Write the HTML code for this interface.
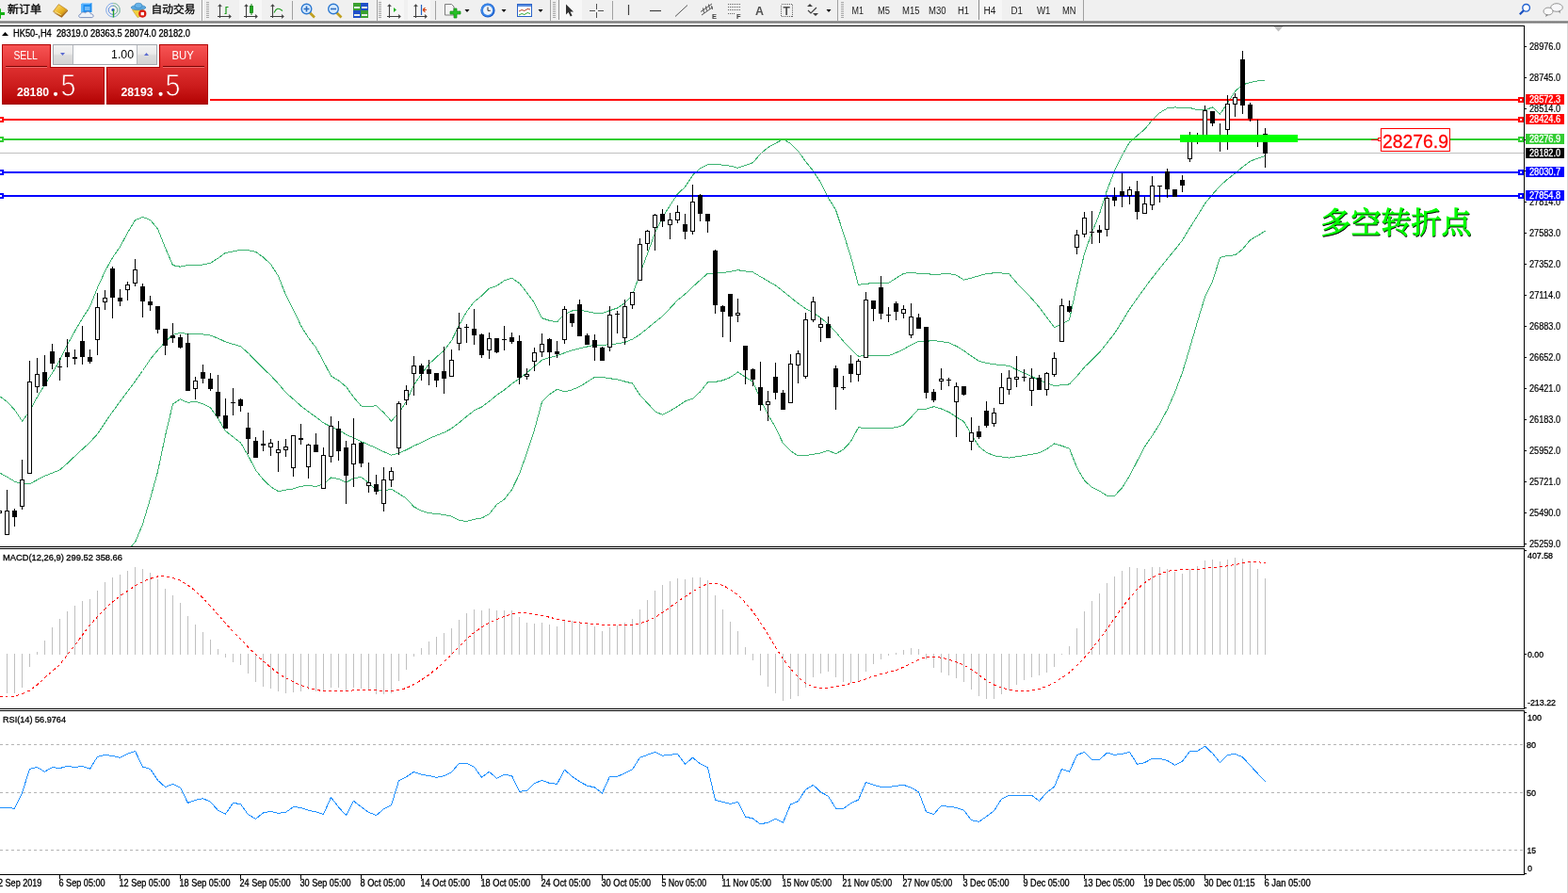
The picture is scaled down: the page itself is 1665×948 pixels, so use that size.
<!DOCTYPE html>
<html><head><meta charset="utf-8"><title>MT4 HK50 H4</title>
<style>
html,body{margin:0;padding:0;background:#fff;}
body{width:1665px;height:948px;overflow:hidden;position:relative;font-family:"Liberation Sans","Noto Sans CJK SC",sans-serif;}
.tb{position:absolute;left:0;top:0;width:1665px;height:22px;background:#f0f0f0;}
.tbl{position:absolute;left:0;top:22px;width:1665px;height:3px;background:linear-gradient(#b4b4b4,#6e6e6e 60%,#d0d0d0);}
</style></head><body>
<svg width="1665" height="948" viewBox="0 0 1665 948" style="position:absolute;left:0;top:0" font-family="&quot;Liberation Sans&quot;, &quot;Noto Sans CJK SC&quot;, sans-serif">
<g shape-rendering="crispEdges" stroke="#000" stroke-width="1" fill="none">
<line x1="0" y1="27.5" x2="1619" y2="27.5"/>
<line x1="0" y1="580.5" x2="1619" y2="580.5"/>
<line x1="0" y1="582.5" x2="1619" y2="582.5"/>
<line x1="0" y1="752.5" x2="1619" y2="752.5"/>
<line x1="0" y1="754.5" x2="1619" y2="754.5"/>
<line x1="0" y1="928.5" x2="1619" y2="928.5"/>
<line x1="1618.5" y1="27" x2="1618.5" y2="581"/>
<line x1="1618.5" y1="582" x2="1618.5" y2="753"/>
<line x1="1618.5" y1="754" x2="1618.5" y2="929"/>
</g>
<rect x="1664" y="25" width="1" height="923" fill="#d8d8d8"/>
<g shape-rendering="crispEdges" fill="#000">
<rect x="1619" y="49" width="2" height="1"/>
<rect x="1619" y="82" width="2" height="1"/>
<rect x="1619" y="115" width="2" height="1"/>
<rect x="1619" y="148" width="2" height="1"/>
<rect x="1619" y="181" width="2" height="1"/>
<rect x="1619" y="214" width="2" height="1"/>
<rect x="1619" y="247" width="2" height="1"/>
<rect x="1619" y="280" width="2" height="1"/>
<rect x="1619" y="313" width="2" height="1"/>
<rect x="1619" y="346" width="2" height="1"/>
<rect x="1619" y="379" width="2" height="1"/>
<rect x="1619" y="412" width="2" height="1"/>
<rect x="1619" y="445" width="2" height="1"/>
<rect x="1619" y="478" width="2" height="1"/>
<rect x="1619" y="511" width="2" height="1"/>
<rect x="1619" y="544" width="2" height="1"/>
<rect x="1619" y="577" width="2" height="1"/>
</g>
<text x="1624" y="53" font-size="10" fill="#000" stroke="#000" stroke-width="0.2" textLength="33" lengthAdjust="spacingAndGlyphs">28976.0</text>
<text x="1624" y="86" font-size="10" fill="#000" stroke="#000" stroke-width="0.2" textLength="33" lengthAdjust="spacingAndGlyphs">28745.0</text>
<text x="1624" y="119" font-size="10" fill="#000" stroke="#000" stroke-width="0.2" textLength="33" lengthAdjust="spacingAndGlyphs">28514.0</text>
<text x="1624" y="218" font-size="10" fill="#000" stroke="#000" stroke-width="0.2" textLength="33" lengthAdjust="spacingAndGlyphs">27814.0</text>
<text x="1624" y="251" font-size="10" fill="#000" stroke="#000" stroke-width="0.2" textLength="33" lengthAdjust="spacingAndGlyphs">27583.0</text>
<text x="1624" y="284" font-size="10" fill="#000" stroke="#000" stroke-width="0.2" textLength="33" lengthAdjust="spacingAndGlyphs">27352.0</text>
<text x="1624" y="317" font-size="10" fill="#000" stroke="#000" stroke-width="0.2" textLength="33" lengthAdjust="spacingAndGlyphs">27114.0</text>
<text x="1624" y="350" font-size="10" fill="#000" stroke="#000" stroke-width="0.2" textLength="33" lengthAdjust="spacingAndGlyphs">26883.0</text>
<text x="1624" y="383" font-size="10" fill="#000" stroke="#000" stroke-width="0.2" textLength="33" lengthAdjust="spacingAndGlyphs">26652.0</text>
<text x="1624" y="416" font-size="10" fill="#000" stroke="#000" stroke-width="0.2" textLength="33" lengthAdjust="spacingAndGlyphs">26421.0</text>
<text x="1624" y="449" font-size="10" fill="#000" stroke="#000" stroke-width="0.2" textLength="33" lengthAdjust="spacingAndGlyphs">26183.0</text>
<text x="1624" y="482" font-size="10" fill="#000" stroke="#000" stroke-width="0.2" textLength="33" lengthAdjust="spacingAndGlyphs">25952.0</text>
<text x="1624" y="515" font-size="10" fill="#000" stroke="#000" stroke-width="0.2" textLength="33" lengthAdjust="spacingAndGlyphs">25721.0</text>
<text x="1624" y="548" font-size="10" fill="#000" stroke="#000" stroke-width="0.2" textLength="33" lengthAdjust="spacingAndGlyphs">25490.0</text>
<text x="1624" y="581" font-size="10" fill="#000" stroke="#000" stroke-width="0.2" textLength="33" lengthAdjust="spacingAndGlyphs">25259.0</text>
<defs><clipPath id="cm"><rect x="0" y="28" width="1618" height="552"/></clipPath><clipPath id="cd"><rect x="0" y="583" width="1618" height="169"/></clipPath><clipPath id="cr"><rect x="0" y="755" width="1618" height="173"/></clipPath></defs>
<g clip-path="url(#cm)">
<polygon points="1352.5,28 1362.5,28 1357.5,33.5" fill="#c0c0c0"/>
<g fill="none" stroke="#3cb371" stroke-width="1" shape-rendering="crispEdges"><polyline points="-0.5,420.5 7.5,426.5 15.5,435.0 23.5,447.0 31.5,436.5 39.5,421.5 47.5,408.3 55.5,396.0 63.5,382.5 71.5,366.0 79.5,351.5 87.5,338.0 95.5,325.5 103.5,305.5 111.5,288.0 119.5,273.5 127.5,262.0 135.5,247.0 143.5,233.7 151.5,230.5 159.5,233.4 167.5,243.1 175.5,263.0 183.5,281.6 191.5,283.2 199.5,281.4 207.5,282.0 215.5,281.0 223.5,279.3 231.5,274.2 239.5,268.4 247.5,266.9 255.5,265.4 263.5,265.7 271.5,267.3 279.5,273.1 287.5,280.4 295.5,293.0 303.5,313.3 311.5,328.6 319.5,345.7 327.5,358.6 335.5,368.9 343.5,383.8 351.5,399.1 359.5,404.0 367.5,410.5 375.5,421.6 383.5,431.0 391.5,431.9 399.5,430.5 407.5,438.1 415.5,447.0 423.5,438.4 431.5,426.0 439.5,408.7 447.5,397.1 455.5,386.7 463.5,379.0 471.5,372.0 479.5,361.7 487.5,345.1 495.5,330.9 503.5,320.3 511.5,314.1 519.5,306.2 527.5,303.5 535.5,297.8 543.5,295.2 551.5,300.6 559.5,310.7 567.5,321.6 575.5,337.7 583.5,340.3 591.5,341.9 599.5,333.4 607.5,330.0 615.5,329.3 623.5,330.6 631.5,332.4 639.5,332.4 647.5,329.7 655.5,327.0 663.5,321.8 671.5,313.1 679.5,290.8 687.5,269.3 695.5,247.3 703.5,230.8 711.5,218.1 719.5,205.9 727.5,198.4 735.5,186.1 743.5,178.7 751.5,174.6 759.5,174.7 767.5,175.1 775.5,176.2 783.5,178.3 791.5,175.4 799.5,172.7 807.5,163.3 815.5,156.5 823.5,152.2 831.5,147.7 839.5,152.4 847.5,160.2 855.5,171.5 863.5,181.5 871.5,193.9 879.5,209.9 887.5,223.0 895.5,247.1 903.5,272.8 911.5,302.4 919.5,301.2 927.5,300.7 935.5,300.2 943.5,300.5 951.5,295.3 959.5,290.3 967.5,289.2 975.5,290.3 983.5,290.3 991.5,291.7 999.5,291.0 1007.5,290.4 1015.5,292.2 1023.5,297.1 1031.5,295.1 1039.5,292.8 1047.5,290.6 1055.5,289.8 1063.5,290.0 1071.5,290.7 1079.5,300.2 1087.5,308.5 1095.5,316.8 1103.5,326.2 1111.5,336.7 1119.5,347.7 1127.5,344.2 1135.5,339.6 1143.5,302.6 1151.5,269.3 1159.5,246.6 1167.5,227.1 1175.5,202.0 1183.5,181.2 1191.5,164.8 1199.5,151.1 1207.5,144.0 1215.5,137.2 1223.5,127.5 1231.5,119.7 1239.5,114.9 1247.5,113.9 1255.5,114.7 1263.5,114.4 1271.5,116.9 1279.5,116.8 1287.5,113.9 1295.5,121.1 1303.5,109.3 1311.5,96.9 1319.5,89.9 1327.5,87.5 1335.5,85.9 1343.5,86.0"/><polyline points="-0.5,502.0 7.5,506.3 15.5,511.1 23.5,514.0 31.5,513.8 39.5,509.4 47.5,505.3 55.5,502.1 63.5,498.9 71.5,491.9 79.5,484.3 87.5,476.9 95.5,469.5 103.5,460.7 111.5,448.8 119.5,437.1 127.5,426.3 135.5,415.5 143.5,404.7 151.5,393.5 159.5,381.5 167.5,371.9 175.5,362.8 183.5,355.3 191.5,353.5 199.5,354.4 207.5,354.1 215.5,354.9 223.5,356.1 231.5,359.2 239.5,362.9 247.5,365.4 255.5,367.7 263.5,374.7 271.5,383.2 279.5,391.1 287.5,398.6 295.5,407.3 303.5,416.7 311.5,423.8 319.5,430.9 327.5,437.1 335.5,442.7 343.5,448.9 351.5,453.1 359.5,456.2 367.5,461.3 375.5,464.8 383.5,468.7 391.5,472.2 399.5,475.6 407.5,479.6 415.5,483.1 423.5,481.2 431.5,477.6 439.5,473.4 447.5,469.7 455.5,465.7 463.5,462.2 471.5,459.2 479.5,454.9 487.5,448.8 495.5,442.1 503.5,435.8 511.5,432.1 519.5,426.1 527.5,419.5 535.5,413.9 543.5,407.5 551.5,401.9 559.5,395.7 567.5,388.9 575.5,382.2 583.5,379.5 591.5,377.6 599.5,374.6 607.5,371.9 615.5,369.9 623.5,368.0 631.5,366.4 639.5,366.4 647.5,365.7 655.5,364.9 663.5,363.4 671.5,360.1 679.5,355.1 687.5,348.6 695.5,342.0 703.5,335.6 711.5,327.2 719.5,318.6 727.5,312.2 735.5,304.6 743.5,297.3 751.5,290.2 759.5,290.1 767.5,289.4 775.5,288.4 783.5,286.7 791.5,287.9 799.5,288.9 807.5,293.7 815.5,298.4 823.5,302.9 831.5,309.2 839.5,315.6 847.5,322.1 855.5,327.6 863.5,331.9 871.5,337.4 879.5,344.1 887.5,352.4 895.5,362.2 903.5,370.7 911.5,378.1 919.5,377.8 927.5,377.6 935.5,377.5 943.5,377.6 951.5,374.5 959.5,370.8 967.5,366.1 975.5,362.2 983.5,362.2 991.5,361.7 999.5,362.5 1007.5,363.9 1015.5,367.4 1023.5,372.4 1031.5,378.1 1039.5,383.4 1047.5,385.4 1055.5,386.8 1063.5,387.5 1071.5,388.4 1079.5,392.5 1087.5,396.1 1095.5,399.5 1103.5,403.5 1111.5,406.8 1119.5,409.4 1127.5,408.8 1135.5,407.9 1143.5,399.4 1151.5,389.8 1159.5,381.9 1167.5,374.1 1175.5,364.1 1183.5,353.9 1191.5,341.3 1199.5,328.1 1207.5,316.8 1215.5,305.7 1223.5,295.0 1231.5,284.8 1239.5,274.9 1247.5,265.3 1255.5,255.1 1263.5,241.8 1271.5,229.2 1279.5,216.1 1287.5,206.4 1295.5,197.2 1303.5,190.3 1311.5,183.9 1319.5,177.2 1327.5,171.2 1335.5,168.1 1343.5,165.6"/><polyline points="-0.5,583.5 7.5,586.1 15.5,587.2 23.5,581.0 31.5,591.1 39.5,597.3 47.5,602.3 55.5,608.2 63.5,615.3 71.5,617.8 79.5,617.1 87.5,615.8 95.5,613.5 103.5,615.9 111.5,609.6 119.5,600.7 127.5,590.6 135.5,584.0 143.5,575.7 151.5,556.5 159.5,529.6 167.5,500.7 175.5,462.6 183.5,429.0 191.5,423.8 199.5,427.4 207.5,426.2 215.5,428.8 223.5,432.9 231.5,444.3 239.5,457.5 247.5,463.8 255.5,470.0 263.5,483.7 271.5,499.1 279.5,509.0 287.5,516.7 295.5,521.6 303.5,520.1 311.5,519.0 319.5,516.2 327.5,515.5 335.5,516.5 343.5,514.0 351.5,507.0 359.5,508.5 367.5,512.1 375.5,507.9 383.5,506.4 391.5,512.5 399.5,520.6 407.5,521.2 415.5,519.2 423.5,524.0 431.5,529.2 439.5,538.0 447.5,542.3 455.5,544.7 463.5,545.4 471.5,546.4 479.5,548.2 487.5,552.4 495.5,553.4 503.5,551.3 511.5,550.0 519.5,545.9 527.5,535.5 535.5,530.1 543.5,519.8 551.5,503.3 559.5,480.7 567.5,456.3 575.5,426.7 583.5,418.7 591.5,413.3 599.5,415.8 607.5,413.8 615.5,410.5 623.5,405.4 631.5,400.3 639.5,400.4 647.5,401.7 655.5,402.9 663.5,405.0 671.5,407.0 679.5,419.3 687.5,427.9 695.5,436.7 703.5,440.4 711.5,436.3 719.5,431.3 727.5,426.0 735.5,423.2 743.5,415.9 751.5,405.9 759.5,405.4 767.5,403.8 775.5,400.6 783.5,395.1 791.5,400.4 799.5,405.1 807.5,424.1 815.5,440.2 823.5,453.7 831.5,470.7 839.5,478.7 847.5,483.9 855.5,483.7 863.5,482.2 871.5,480.9 879.5,478.3 887.5,481.7 895.5,477.3 903.5,468.6 911.5,453.8 919.5,454.4 927.5,454.6 935.5,454.8 943.5,454.7 951.5,453.7 959.5,451.2 967.5,442.9 975.5,434.1 983.5,434.1 991.5,431.7 999.5,434.0 1007.5,437.4 1015.5,442.7 1023.5,447.7 1031.5,461.2 1039.5,474.0 1047.5,480.3 1055.5,483.8 1063.5,485.0 1071.5,486.1 1079.5,484.8 1087.5,483.7 1095.5,482.2 1103.5,480.8 1111.5,476.8 1119.5,471.0 1127.5,473.3 1135.5,476.1 1143.5,496.3 1151.5,510.2 1159.5,517.3 1167.5,521.2 1175.5,526.3 1183.5,526.5 1191.5,517.8 1199.5,505.2 1207.5,489.6 1215.5,474.2 1223.5,462.5 1231.5,449.9 1239.5,434.8 1247.5,416.7 1255.5,395.5 1263.5,369.1 1271.5,341.6 1279.5,315.4 1287.5,299.0 1295.5,273.4 1303.5,271.3 1311.5,270.9 1319.5,264.5 1327.5,254.8 1335.5,250.2 1343.5,245.1"/></g>
<g shape-rendering="crispEdges">
<rect x="223" y="105" width="1395" height="2" fill="#ff0000"/>
<rect x="0" y="126" width="1618" height="2" fill="#ff0000"/>
<rect x="0" y="147" width="1618" height="2" fill="#32cd32"/>
<rect x="0" y="162" width="1618" height="1" fill="#c0c0c0"/>
<rect x="0" y="182" width="1618" height="2" fill="#0000ff"/>
<rect x="0" y="207" width="1618" height="2" fill="#0000ff"/>
</g>
<g stroke="#000" stroke-width="1" shape-rendering="crispEdges"><line x1="-0.5" y1="540" x2="-0.5" y2="546"/>
<rect x="-2.5" y="542.5" width="4" height="2" fill="#fff" stroke="#000"/>
<line x1="7.5" y1="520" x2="7.5" y2="568"/>
<rect x="5.5" y="542.5" width="4" height="25" fill="#fff" stroke="#000"/>
<line x1="15.5" y1="540" x2="15.5" y2="559"/>
<rect x="13" y="542" width="5" height="7" fill="#000" stroke="none"/>
<line x1="23.5" y1="488" x2="23.5" y2="541"/>
<rect x="21.5" y="509.5" width="4" height="28" fill="#fff" stroke="#000"/>
<line x1="31.5" y1="383" x2="31.5" y2="503"/>
<rect x="29.5" y="405.5" width="4" height="97" fill="#fff" stroke="#000"/>
<line x1="39.5" y1="380" x2="39.5" y2="417"/>
<rect x="37.5" y="397.5" width="4" height="13" fill="#fff" stroke="#000"/>
<line x1="47.5" y1="377" x2="47.5" y2="410"/>
<rect x="45" y="395" width="5" height="15" fill="#000" stroke="none"/>
<line x1="55.5" y1="365" x2="55.5" y2="392"/>
<rect x="53" y="373" width="5" height="13" fill="#000" stroke="none"/>
<line x1="63.5" y1="380" x2="63.5" y2="404"/>
<rect x="61" y="389" width="5" height="1" fill="#000" stroke="none"/>
<line x1="71.5" y1="360" x2="71.5" y2="390"/>
<rect x="69" y="374" width="5" height="5" fill="#000" stroke="none"/>
<line x1="79.5" y1="371" x2="79.5" y2="387"/>
<rect x="77" y="379" width="5" height="2" fill="#000" stroke="none"/>
<line x1="87.5" y1="346" x2="87.5" y2="387"/>
<rect x="85" y="362" width="5" height="17" fill="#000" stroke="none"/>
<line x1="95.5" y1="371" x2="95.5" y2="386"/>
<rect x="93" y="379" width="5" height="5" fill="#000" stroke="none"/>
<line x1="103.5" y1="311" x2="103.5" y2="377"/>
<rect x="101.5" y="326.5" width="4" height="34" fill="#fff" stroke="#000"/>
<line x1="111.5" y1="308" x2="111.5" y2="329"/>
<rect x="109.5" y="316.5" width="4" height="4" fill="#fff" stroke="#000"/>
<line x1="119.5" y1="283" x2="119.5" y2="338"/>
<rect x="117" y="285" width="5" height="31" fill="#000" stroke="none"/>
<line x1="127.5" y1="307" x2="127.5" y2="325"/>
<rect x="125" y="316" width="5" height="4" fill="#000" stroke="none"/>
<line x1="135.5" y1="299" x2="135.5" y2="319"/>
<rect x="133.5" y="302.5" width="4" height="5" fill="#fff" stroke="#000"/>
<line x1="143.5" y1="275" x2="143.5" y2="304"/>
<rect x="141.5" y="286.5" width="4" height="14" fill="#fff" stroke="#000"/>
<line x1="151.5" y1="301" x2="151.5" y2="337"/>
<rect x="149" y="304" width="5" height="16" fill="#000" stroke="none"/>
<line x1="159.5" y1="314" x2="159.5" y2="330"/>
<rect x="157" y="320" width="5" height="4" fill="#000" stroke="none"/>
<line x1="167.5" y1="325" x2="167.5" y2="354"/>
<rect x="165" y="325" width="5" height="25" fill="#000" stroke="none"/>
<line x1="175.5" y1="349" x2="175.5" y2="377"/>
<rect x="173" y="349" width="5" height="18" fill="#000" stroke="none"/>
<line x1="183.5" y1="343" x2="183.5" y2="364"/>
<rect x="181" y="356" width="5" height="3" fill="#000" stroke="none"/>
<line x1="191.5" y1="355" x2="191.5" y2="370"/>
<rect x="189" y="358" width="5" height="11" fill="#000" stroke="none"/>
<line x1="199.5" y1="354" x2="199.5" y2="415"/>
<rect x="197" y="364" width="5" height="51" fill="#000" stroke="none"/>
<line x1="207.5" y1="400" x2="207.5" y2="424"/>
<rect x="205.5" y="404.5" width="4" height="8" fill="#fff" stroke="#000"/>
<line x1="215.5" y1="387" x2="215.5" y2="407"/>
<rect x="213" y="395" width="5" height="7" fill="#000" stroke="none"/>
<line x1="223.5" y1="396" x2="223.5" y2="415"/>
<rect x="221" y="402" width="5" height="11" fill="#000" stroke="none"/>
<line x1="231.5" y1="398" x2="231.5" y2="444"/>
<rect x="229" y="416" width="5" height="26" fill="#000" stroke="none"/>
<line x1="239.5" y1="423" x2="239.5" y2="455"/>
<rect x="237" y="441" width="5" height="14" fill="#000" stroke="none"/>
<line x1="247.5" y1="412" x2="247.5" y2="441"/>
<rect x="245" y="427" width="5" height="1" fill="#000" stroke="none"/>
<line x1="255.5" y1="423" x2="255.5" y2="437"/>
<rect x="253" y="424" width="5" height="7" fill="#000" stroke="none"/>
<line x1="263.5" y1="438" x2="263.5" y2="482"/>
<rect x="261" y="454" width="5" height="12" fill="#000" stroke="none"/>
<line x1="271.5" y1="464" x2="271.5" y2="486"/>
<rect x="269" y="468" width="5" height="18" fill="#000" stroke="none"/>
<line x1="279.5" y1="457" x2="279.5" y2="479"/>
<rect x="277" y="471" width="5" height="2" fill="#000" stroke="none"/>
<line x1="287.5" y1="466" x2="287.5" y2="484"/>
<rect x="285.5" y="470.5" width="4" height="4" fill="#fff" stroke="#000"/>
<line x1="295.5" y1="468" x2="295.5" y2="501"/>
<rect x="293.5" y="477.5" width="4" height="3" fill="#fff" stroke="#000"/>
<line x1="303.5" y1="466" x2="303.5" y2="485"/>
<rect x="301.5" y="474.5" width="4" height="3" fill="#fff" stroke="#000"/>
<line x1="311.5" y1="462" x2="311.5" y2="506"/>
<rect x="309.5" y="462.5" width="4" height="34" fill="#fff" stroke="#000"/>
<line x1="319.5" y1="450" x2="319.5" y2="472"/>
<rect x="317" y="465" width="5" height="2" fill="#000" stroke="none"/>
<line x1="327.5" y1="471" x2="327.5" y2="508"/>
<rect x="325.5" y="472.5" width="4" height="23" fill="#fff" stroke="#000"/>
<line x1="335.5" y1="460" x2="335.5" y2="480"/>
<rect x="333" y="472" width="5" height="8" fill="#000" stroke="none"/>
<line x1="343.5" y1="475" x2="343.5" y2="519"/>
<rect x="341.5" y="483.5" width="4" height="35" fill="#fff" stroke="#000"/>
<line x1="351.5" y1="442" x2="351.5" y2="491"/>
<rect x="349.5" y="452.5" width="4" height="32" fill="#fff" stroke="#000"/>
<line x1="359.5" y1="447" x2="359.5" y2="489"/>
<rect x="357" y="455" width="5" height="24" fill="#000" stroke="none"/>
<line x1="367.5" y1="468" x2="367.5" y2="535"/>
<rect x="365" y="475" width="5" height="30" fill="#000" stroke="none"/>
<line x1="375.5" y1="444" x2="375.5" y2="517"/>
<rect x="373.5" y="471.5" width="4" height="21" fill="#fff" stroke="#000"/>
<line x1="383.5" y1="469" x2="383.5" y2="496"/>
<rect x="381" y="470" width="5" height="22" fill="#000" stroke="none"/>
<line x1="391.5" y1="491" x2="391.5" y2="523"/>
<rect x="389.5" y="512.5" width="4" height="3" fill="#fff" stroke="#000"/>
<line x1="399.5" y1="504" x2="399.5" y2="525"/>
<rect x="397" y="514" width="5" height="8" fill="#000" stroke="none"/>
<line x1="407.5" y1="496" x2="407.5" y2="543"/>
<rect x="405.5" y="509.5" width="4" height="25" fill="#fff" stroke="#000"/>
<line x1="415.5" y1="496" x2="415.5" y2="517"/>
<rect x="413.5" y="500.5" width="4" height="9" fill="#fff" stroke="#000"/>
<line x1="423.5" y1="426" x2="423.5" y2="483"/>
<rect x="421.5" y="428.5" width="4" height="47" fill="#fff" stroke="#000"/>
<line x1="431.5" y1="409" x2="431.5" y2="430"/>
<rect x="429.5" y="414.5" width="4" height="10" fill="#fff" stroke="#000"/>
<line x1="439.5" y1="378" x2="439.5" y2="420"/>
<rect x="437.5" y="388.5" width="4" height="8" fill="#fff" stroke="#000"/>
<line x1="447.5" y1="386" x2="447.5" y2="404"/>
<rect x="445" y="388" width="5" height="9" fill="#000" stroke="none"/>
<line x1="455.5" y1="382" x2="455.5" y2="409"/>
<rect x="453" y="392" width="5" height="5" fill="#000" stroke="none"/>
<line x1="463.5" y1="396" x2="463.5" y2="411"/>
<rect x="461" y="396" width="5" height="8" fill="#000" stroke="none"/>
<line x1="471.5" y1="368" x2="471.5" y2="418"/>
<rect x="469" y="394" width="5" height="8" fill="#000" stroke="none"/>
<line x1="479.5" y1="371" x2="479.5" y2="400"/>
<rect x="477.5" y="382.5" width="4" height="17" fill="#fff" stroke="#000"/>
<line x1="487.5" y1="332" x2="487.5" y2="372"/>
<rect x="485.5" y="348.5" width="4" height="16" fill="#fff" stroke="#000"/>
<line x1="495.5" y1="344" x2="495.5" y2="364"/>
<rect x="493" y="347" width="5" height="1" fill="#000" stroke="none"/>
<line x1="503.5" y1="328" x2="503.5" y2="366"/>
<rect x="501" y="349" width="5" height="7" fill="#000" stroke="none"/>
<line x1="511.5" y1="354" x2="511.5" y2="380"/>
<rect x="509" y="355" width="5" height="22" fill="#000" stroke="none"/>
<line x1="519.5" y1="353" x2="519.5" y2="381"/>
<rect x="517.5" y="359.5" width="4" height="12" fill="#fff" stroke="#000"/>
<line x1="527.5" y1="359" x2="527.5" y2="375"/>
<rect x="525" y="359" width="5" height="15" fill="#000" stroke="none"/>
<line x1="535.5" y1="346" x2="535.5" y2="372"/>
<rect x="533" y="360" width="5" height="1" fill="#000" stroke="none"/>
<line x1="543.5" y1="353" x2="543.5" y2="365"/>
<rect x="541" y="358" width="5" height="5" fill="#000" stroke="none"/>
<line x1="551.5" y1="356" x2="551.5" y2="408"/>
<rect x="549" y="362" width="5" height="39" fill="#000" stroke="none"/>
<line x1="559.5" y1="391" x2="559.5" y2="403"/>
<rect x="557.5" y="397.5" width="4" height="2" fill="#fff" stroke="#000"/>
<line x1="567.5" y1="369" x2="567.5" y2="394"/>
<rect x="565.5" y="374.5" width="4" height="9" fill="#fff" stroke="#000"/>
<line x1="575.5" y1="354" x2="575.5" y2="379"/>
<rect x="573.5" y="365.5" width="4" height="8" fill="#fff" stroke="#000"/>
<line x1="583.5" y1="359" x2="583.5" y2="388"/>
<rect x="581" y="360" width="5" height="14" fill="#000" stroke="none"/>
<line x1="591.5" y1="362" x2="591.5" y2="380"/>
<rect x="589" y="373" width="5" height="3" fill="#000" stroke="none"/>
<line x1="599.5" y1="325" x2="599.5" y2="365"/>
<rect x="597.5" y="328.5" width="4" height="32" fill="#fff" stroke="#000"/>
<line x1="607.5" y1="333" x2="607.5" y2="347"/>
<rect x="605" y="333" width="5" height="10" fill="#000" stroke="none"/>
<line x1="615.5" y1="318" x2="615.5" y2="357"/>
<rect x="613" y="323" width="5" height="34" fill="#000" stroke="none"/>
<line x1="623.5" y1="354" x2="623.5" y2="366"/>
<rect x="621" y="356" width="5" height="10" fill="#000" stroke="none"/>
<line x1="631.5" y1="355" x2="631.5" y2="383"/>
<rect x="629" y="361" width="5" height="8" fill="#000" stroke="none"/>
<line x1="639.5" y1="368" x2="639.5" y2="383"/>
<rect x="637" y="369" width="5" height="14" fill="#000" stroke="none"/>
<line x1="647.5" y1="325" x2="647.5" y2="373"/>
<rect x="645.5" y="334.5" width="4" height="34" fill="#fff" stroke="#000"/>
<line x1="655.5" y1="330" x2="655.5" y2="354"/>
<rect x="653" y="333" width="5" height="1" fill="#000" stroke="none"/>
<line x1="663.5" y1="318" x2="663.5" y2="366"/>
<rect x="661.5" y="325.5" width="4" height="33" fill="#fff" stroke="#000"/>
<line x1="671.5" y1="310" x2="671.5" y2="328"/>
<rect x="669.5" y="310.5" width="4" height="13" fill="#fff" stroke="#000"/>
<line x1="679.5" y1="253" x2="679.5" y2="298"/>
<rect x="677.5" y="259.5" width="4" height="38" fill="#fff" stroke="#000"/>
<line x1="687.5" y1="244" x2="687.5" y2="266"/>
<rect x="685.5" y="245.5" width="4" height="13" fill="#fff" stroke="#000"/>
<line x1="695.5" y1="227" x2="695.5" y2="266"/>
<rect x="693.5" y="228.5" width="4" height="13" fill="#fff" stroke="#000"/>
<line x1="703.5" y1="222" x2="703.5" y2="241"/>
<rect x="701" y="227" width="5" height="8" fill="#000" stroke="none"/>
<line x1="711.5" y1="226" x2="711.5" y2="254"/>
<rect x="709.5" y="233.5" width="4" height="5" fill="#fff" stroke="#000"/>
<line x1="719.5" y1="218" x2="719.5" y2="237"/>
<rect x="717.5" y="225.5" width="4" height="8" fill="#fff" stroke="#000"/>
<line x1="727.5" y1="227" x2="727.5" y2="254"/>
<rect x="725" y="238" width="5" height="8" fill="#000" stroke="none"/>
<line x1="735.5" y1="196" x2="735.5" y2="249"/>
<rect x="733.5" y="214.5" width="4" height="31" fill="#fff" stroke="#000"/>
<line x1="743.5" y1="206" x2="743.5" y2="235"/>
<rect x="741" y="207" width="5" height="20" fill="#000" stroke="none"/>
<line x1="751.5" y1="227" x2="751.5" y2="247"/>
<rect x="749" y="227" width="5" height="8" fill="#000" stroke="none"/>
<line x1="759.5" y1="265" x2="759.5" y2="333"/>
<rect x="757" y="266" width="5" height="58" fill="#000" stroke="none"/>
<line x1="767.5" y1="324" x2="767.5" y2="358"/>
<rect x="765" y="325" width="5" height="6" fill="#000" stroke="none"/>
<line x1="775.5" y1="312" x2="775.5" y2="363"/>
<rect x="773" y="312" width="5" height="24" fill="#000" stroke="none"/>
<line x1="783.5" y1="317" x2="783.5" y2="342"/>
<rect x="781.5" y="332.5" width="4" height="2" fill="#fff" stroke="#000"/>
<line x1="791.5" y1="367" x2="791.5" y2="408"/>
<rect x="789" y="367" width="5" height="26" fill="#000" stroke="none"/>
<line x1="799.5" y1="391" x2="799.5" y2="410"/>
<rect x="797" y="392" width="5" height="11" fill="#000" stroke="none"/>
<line x1="807.5" y1="384" x2="807.5" y2="436"/>
<rect x="805" y="411" width="5" height="19" fill="#000" stroke="none"/>
<line x1="815.5" y1="415" x2="815.5" y2="447"/>
<rect x="813.5" y="426.5" width="4" height="3" fill="#fff" stroke="#000"/>
<line x1="823.5" y1="385" x2="823.5" y2="424"/>
<rect x="821" y="400" width="5" height="17" fill="#000" stroke="none"/>
<line x1="831.5" y1="414" x2="831.5" y2="435"/>
<rect x="829" y="417" width="5" height="18" fill="#000" stroke="none"/>
<line x1="839.5" y1="376" x2="839.5" y2="428"/>
<rect x="837.5" y="386.5" width="4" height="41" fill="#fff" stroke="#000"/>
<line x1="847.5" y1="372" x2="847.5" y2="407"/>
<rect x="845.5" y="375.5" width="4" height="12" fill="#fff" stroke="#000"/>
<line x1="855.5" y1="332" x2="855.5" y2="402"/>
<rect x="853.5" y="339.5" width="4" height="60" fill="#fff" stroke="#000"/>
<line x1="863.5" y1="315" x2="863.5" y2="342"/>
<rect x="861.5" y="320.5" width="4" height="19" fill="#fff" stroke="#000"/>
<line x1="871.5" y1="337" x2="871.5" y2="363"/>
<rect x="869.5" y="344.5" width="4" height="3" fill="#fff" stroke="#000"/>
<line x1="879.5" y1="336" x2="879.5" y2="359"/>
<rect x="877" y="344" width="5" height="15" fill="#000" stroke="none"/>
<line x1="887.5" y1="388" x2="887.5" y2="435"/>
<rect x="885" y="391" width="5" height="20" fill="#000" stroke="none"/>
<line x1="895.5" y1="399" x2="895.5" y2="414"/>
<rect x="893" y="411" width="5" height="1" fill="#000" stroke="none"/>
<line x1="903.5" y1="377" x2="903.5" y2="406"/>
<rect x="901" y="386" width="5" height="11" fill="#000" stroke="none"/>
<line x1="911.5" y1="381" x2="911.5" y2="405"/>
<rect x="909.5" y="383.5" width="4" height="14" fill="#fff" stroke="#000"/>
<line x1="919.5" y1="310" x2="919.5" y2="380"/>
<rect x="917.5" y="318.5" width="4" height="61" fill="#fff" stroke="#000"/>
<line x1="927.5" y1="319" x2="927.5" y2="341"/>
<rect x="925" y="319" width="5" height="9" fill="#000" stroke="none"/>
<line x1="935.5" y1="293" x2="935.5" y2="339"/>
<rect x="933" y="305" width="5" height="28" fill="#000" stroke="none"/>
<line x1="943.5" y1="326" x2="943.5" y2="342"/>
<rect x="941" y="334" width="5" height="1" fill="#000" stroke="none"/>
<line x1="951.5" y1="320" x2="951.5" y2="340"/>
<rect x="949" y="322" width="5" height="9" fill="#000" stroke="none"/>
<line x1="959.5" y1="324" x2="959.5" y2="338"/>
<rect x="957.5" y="328.5" width="4" height="4" fill="#fff" stroke="#000"/>
<line x1="967.5" y1="322" x2="967.5" y2="359"/>
<rect x="965.5" y="336.5" width="4" height="19" fill="#fff" stroke="#000"/>
<line x1="975.5" y1="333" x2="975.5" y2="349"/>
<rect x="973" y="337" width="5" height="12" fill="#000" stroke="none"/>
<line x1="983.5" y1="347" x2="983.5" y2="423"/>
<rect x="981" y="347" width="5" height="70" fill="#000" stroke="none"/>
<line x1="991.5" y1="413" x2="991.5" y2="427"/>
<rect x="989" y="416" width="5" height="9" fill="#000" stroke="none"/>
<line x1="999.5" y1="391" x2="999.5" y2="414"/>
<rect x="997.5" y="402.5" width="4" height="2" fill="#fff" stroke="#000"/>
<line x1="1007.5" y1="401" x2="1007.5" y2="410"/>
<rect x="1005" y="403" width="5" height="1" fill="#000" stroke="none"/>
<line x1="1015.5" y1="406" x2="1015.5" y2="464"/>
<rect x="1013.5" y="410.5" width="4" height="16" fill="#fff" stroke="#000"/>
<line x1="1023.5" y1="410" x2="1023.5" y2="420"/>
<rect x="1021" y="410" width="5" height="9" fill="#000" stroke="none"/>
<line x1="1031.5" y1="443" x2="1031.5" y2="478"/>
<rect x="1029.5" y="459.5" width="4" height="9" fill="#fff" stroke="#000"/>
<line x1="1039.5" y1="452" x2="1039.5" y2="466"/>
<rect x="1037" y="458" width="5" height="6" fill="#000" stroke="none"/>
<line x1="1047.5" y1="426" x2="1047.5" y2="454"/>
<rect x="1045" y="436" width="5" height="16" fill="#000" stroke="none"/>
<line x1="1055.5" y1="433" x2="1055.5" y2="453"/>
<rect x="1053.5" y="438.5" width="4" height="11" fill="#fff" stroke="#000"/>
<line x1="1063.5" y1="396" x2="1063.5" y2="429"/>
<rect x="1061.5" y="411.5" width="4" height="17" fill="#fff" stroke="#000"/>
<line x1="1071.5" y1="393" x2="1071.5" y2="419"/>
<rect x="1069.5" y="401.5" width="4" height="12" fill="#fff" stroke="#000"/>
<line x1="1079.5" y1="378" x2="1079.5" y2="411"/>
<rect x="1077.5" y="400.5" width="4" height="2" fill="#fff" stroke="#000"/>
<line x1="1087.5" y1="392" x2="1087.5" y2="405"/>
<rect x="1085" y="400" width="5" height="1" fill="#000" stroke="none"/>
<line x1="1095.5" y1="391" x2="1095.5" y2="431"/>
<rect x="1093.5" y="401.5" width="4" height="13" fill="#fff" stroke="#000"/>
<line x1="1103.5" y1="398" x2="1103.5" y2="414"/>
<rect x="1101" y="401" width="5" height="13" fill="#000" stroke="none"/>
<line x1="1111.5" y1="395" x2="1111.5" y2="420"/>
<rect x="1109.5" y="396.5" width="4" height="17" fill="#fff" stroke="#000"/>
<line x1="1119.5" y1="374" x2="1119.5" y2="400"/>
<rect x="1117.5" y="380.5" width="4" height="17" fill="#fff" stroke="#000"/>
<line x1="1127.5" y1="317" x2="1127.5" y2="363"/>
<rect x="1125.5" y="324.5" width="4" height="38" fill="#fff" stroke="#000"/>
<line x1="1135.5" y1="319" x2="1135.5" y2="332"/>
<rect x="1133" y="325" width="5" height="6" fill="#000" stroke="none"/>
<line x1="1143.5" y1="244" x2="1143.5" y2="270"/>
<rect x="1141.5" y="249.5" width="4" height="13" fill="#fff" stroke="#000"/>
<line x1="1151.5" y1="225" x2="1151.5" y2="252"/>
<rect x="1149.5" y="231.5" width="4" height="17" fill="#fff" stroke="#000"/>
<line x1="1159.5" y1="224" x2="1159.5" y2="259"/>
<rect x="1157" y="246" width="5" height="1" fill="#000" stroke="none"/>
<line x1="1167.5" y1="239" x2="1167.5" y2="258"/>
<rect x="1165" y="244" width="5" height="3" fill="#000" stroke="none"/>
<line x1="1175.5" y1="208" x2="1175.5" y2="251"/>
<rect x="1173.5" y="210.5" width="4" height="33" fill="#fff" stroke="#000"/>
<line x1="1183.5" y1="199" x2="1183.5" y2="219"/>
<rect x="1181" y="209" width="5" height="4" fill="#000" stroke="none"/>
<line x1="1191.5" y1="184" x2="1191.5" y2="220"/>
<rect x="1189" y="203" width="5" height="5" fill="#000" stroke="none"/>
<line x1="1199.5" y1="198" x2="1199.5" y2="217"/>
<rect x="1197.5" y="201.5" width="4" height="6" fill="#fff" stroke="#000"/>
<line x1="1207.5" y1="192" x2="1207.5" y2="233"/>
<rect x="1205" y="203" width="5" height="22" fill="#000" stroke="none"/>
<line x1="1215.5" y1="209" x2="1215.5" y2="227"/>
<rect x="1213.5" y="216.5" width="4" height="10" fill="#fff" stroke="#000"/>
<line x1="1223.5" y1="187" x2="1223.5" y2="223"/>
<rect x="1221.5" y="197.5" width="4" height="20" fill="#fff" stroke="#000"/>
<line x1="1231.5" y1="197" x2="1231.5" y2="215"/>
<rect x="1229" y="197" width="5" height="1" fill="#000" stroke="none"/>
<line x1="1239.5" y1="179" x2="1239.5" y2="210"/>
<rect x="1237" y="182" width="5" height="19" fill="#000" stroke="none"/>
<line x1="1247.5" y1="201" x2="1247.5" y2="209"/>
<rect x="1245" y="201" width="5" height="8" fill="#000" stroke="none"/>
<line x1="1255.5" y1="186" x2="1255.5" y2="204"/>
<rect x="1253" y="191" width="5" height="6" fill="#000" stroke="none"/>
<line x1="1263.5" y1="140" x2="1263.5" y2="172"/>
<rect x="1261.5" y="147.5" width="4" height="21" fill="#fff" stroke="#000"/>
<line x1="1271.5" y1="141" x2="1271.5" y2="153"/>
<rect x="1269" y="146" width="5" height="1" fill="#000" stroke="none"/>
<line x1="1279.5" y1="112" x2="1279.5" y2="147"/>
<rect x="1277.5" y="117.5" width="4" height="28" fill="#fff" stroke="#000"/>
<line x1="1287.5" y1="118" x2="1287.5" y2="134"/>
<rect x="1285" y="118" width="5" height="13" fill="#000" stroke="none"/>
<line x1="1295.5" y1="131" x2="1295.5" y2="161"/>
<rect x="1293" y="144" width="5" height="3" fill="#000" stroke="none"/>
<line x1="1303.5" y1="101" x2="1303.5" y2="159"/>
<rect x="1301.5" y="110.5" width="4" height="27" fill="#fff" stroke="#000"/>
<line x1="1311.5" y1="99" x2="1311.5" y2="124"/>
<rect x="1309.5" y="103.5" width="4" height="7" fill="#fff" stroke="#000"/>
<line x1="1319.5" y1="54" x2="1319.5" y2="121"/>
<rect x="1317" y="63" width="5" height="49" fill="#000" stroke="none"/>
<line x1="1327.5" y1="109" x2="1327.5" y2="129"/>
<rect x="1325" y="111" width="5" height="15" fill="#000" stroke="none"/>
<line x1="1335.5" y1="127" x2="1335.5" y2="156"/>
<rect x="1333" y="145" width="5" height="3" fill="#000" stroke="none"/>
<line x1="1343.5" y1="136" x2="1343.5" y2="178"/>
<rect x="1341" y="142" width="5" height="21" fill="#000" stroke="none"/></g>
<rect x="1612" y="103" width="6" height="6" fill="#ff0000" shape-rendering="crispEdges"/><rect x="1614" y="105" width="2" height="2" fill="#fff" shape-rendering="crispEdges"/>
<rect x="1612" y="124" width="6" height="6" fill="#ff0000" shape-rendering="crispEdges"/><rect x="1614" y="126" width="2" height="2" fill="#fff" shape-rendering="crispEdges"/>
<rect x="1612" y="145" width="6" height="6" fill="#32cd32" shape-rendering="crispEdges"/><rect x="1614" y="147" width="2" height="2" fill="#fff" shape-rendering="crispEdges"/>
<rect x="1612" y="180" width="6" height="6" fill="#0000ff" shape-rendering="crispEdges"/><rect x="1614" y="182" width="2" height="2" fill="#fff" shape-rendering="crispEdges"/>
<rect x="1612" y="205" width="6" height="6" fill="#0000ff" shape-rendering="crispEdges"/><rect x="1614" y="207" width="2" height="2" fill="#fff" shape-rendering="crispEdges"/>
<rect x="-2" y="124" width="6" height="6" fill="#ff0000" shape-rendering="crispEdges"/><rect x="0" y="126" width="2" height="2" fill="#fff" shape-rendering="crispEdges"/>
<rect x="-2" y="145" width="6" height="6" fill="#32cd32" shape-rendering="crispEdges"/><rect x="0" y="147" width="2" height="2" fill="#fff" shape-rendering="crispEdges"/>
<rect x="-2" y="180" width="6" height="6" fill="#0000ff" shape-rendering="crispEdges"/><rect x="0" y="182" width="2" height="2" fill="#fff" shape-rendering="crispEdges"/>
<rect x="-2" y="205" width="6" height="6" fill="#0000ff" shape-rendering="crispEdges"/><rect x="0" y="207" width="2" height="2" fill="#fff" shape-rendering="crispEdges"/>
<rect x="1253" y="143" width="125" height="8" fill="#00ff00" shape-rendering="crispEdges"/>
<rect x="1466.5" y="136.5" width="73" height="24" fill="#fff" stroke="#ff0000" shape-rendering="crispEdges"/>
<rect x="1456" y="148" width="8" height="1" fill="#ff0000"/><rect x="1463.5" y="146.5" width="3" height="3" fill="#fff" stroke="#ff0000" stroke-width="1" shape-rendering="crispEdges"/>
<text x="1468" y="157" font-size="21" fill="#ff0000" stroke="#ff0000" stroke-width="0.3" textLength="70" lengthAdjust="spacingAndGlyphs">28276.9</text>
<text x="1402.5" y="247" font-size="31" font-weight="normal" fill="#000" stroke="#000" stroke-width="0.9" textLength="160" lengthAdjust="spacingAndGlyphs" font-family="&quot;Liberation Serif&quot;, &quot;Noto Serif CJK SC&quot;, serif" transform="translate(0.6,1.2)">多空转折点</text>
<text x="1402.5" y="247" font-size="31" font-weight="normal" fill="#00ff00" stroke="#00ff00" stroke-width="0.9" textLength="160" lengthAdjust="spacingAndGlyphs" font-family="&quot;Liberation Serif&quot;, &quot;Noto Serif CJK SC&quot;, serif">多空转折点</text>
</g>
<rect x="1620" y="100" width="41" height="11" fill="#ff0000" shape-rendering="crispEdges"/>
<text x="1624" y="109" font-size="10" fill="#fff" stroke="#fff" stroke-width="0.3" textLength="33" lengthAdjust="spacingAndGlyphs">28572.3</text>
<rect x="1620" y="121" width="41" height="11" fill="#ff0000" shape-rendering="crispEdges"/>
<text x="1624" y="130" font-size="10" fill="#fff" stroke="#fff" stroke-width="0.3" textLength="33" lengthAdjust="spacingAndGlyphs">28424.6</text>
<rect x="1620" y="142" width="41" height="11" fill="#32cd32" shape-rendering="crispEdges"/>
<text x="1624" y="151" font-size="10" fill="#fff" stroke="#fff" stroke-width="0.3" textLength="33" lengthAdjust="spacingAndGlyphs">28276.9</text>
<rect x="1620" y="157" width="41" height="11" fill="#000000" shape-rendering="crispEdges"/>
<text x="1624" y="166" font-size="10" fill="#fff" stroke="#fff" stroke-width="0.3" textLength="33" lengthAdjust="spacingAndGlyphs">28182.0</text>
<rect x="1620" y="177" width="41" height="11" fill="#0000ff" shape-rendering="crispEdges"/>
<text x="1624" y="186" font-size="10" fill="#fff" stroke="#fff" stroke-width="0.3" textLength="33" lengthAdjust="spacingAndGlyphs">28030.7</text>
<rect x="1620" y="202" width="41" height="11" fill="#0000ff" shape-rendering="crispEdges"/>
<text x="1624" y="211" font-size="10" fill="#fff" stroke="#fff" stroke-width="0.3" textLength="33" lengthAdjust="spacingAndGlyphs">27854.8</text>
<g clip-path="url(#cd)">
<g stroke="#c0c0c0" stroke-width="1" shape-rendering="crispEdges"><line x1="-0.5" y1="694" x2="-0.5" y2="736"/>
<line x1="7.5" y1="694" x2="7.5" y2="736"/>
<line x1="15.5" y1="694" x2="15.5" y2="736"/>
<line x1="23.5" y1="694" x2="23.5" y2="730"/>
<line x1="31.5" y1="694" x2="31.5" y2="708"/>
<line x1="39.5" y1="692" x2="39.5" y2="695"/>
<line x1="47.5" y1="680" x2="47.5" y2="695"/>
<line x1="55.5" y1="666" x2="55.5" y2="695"/>
<line x1="63.5" y1="657" x2="63.5" y2="695"/>
<line x1="71.5" y1="649" x2="71.5" y2="695"/>
<line x1="79.5" y1="643" x2="79.5" y2="695"/>
<line x1="87.5" y1="638" x2="87.5" y2="695"/>
<line x1="95.5" y1="636" x2="95.5" y2="695"/>
<line x1="103.5" y1="627" x2="103.5" y2="695"/>
<line x1="111.5" y1="618" x2="111.5" y2="695"/>
<line x1="119.5" y1="613" x2="119.5" y2="695"/>
<line x1="127.5" y1="610" x2="127.5" y2="695"/>
<line x1="135.5" y1="606" x2="135.5" y2="695"/>
<line x1="143.5" y1="602" x2="143.5" y2="695"/>
<line x1="151.5" y1="604" x2="151.5" y2="695"/>
<line x1="159.5" y1="608" x2="159.5" y2="695"/>
<line x1="167.5" y1="615" x2="167.5" y2="695"/>
<line x1="175.5" y1="625" x2="175.5" y2="695"/>
<line x1="183.5" y1="632" x2="183.5" y2="695"/>
<line x1="191.5" y1="640" x2="191.5" y2="695"/>
<line x1="199.5" y1="654" x2="199.5" y2="695"/>
<line x1="207.5" y1="663" x2="207.5" y2="695"/>
<line x1="215.5" y1="671" x2="215.5" y2="695"/>
<line x1="223.5" y1="679" x2="223.5" y2="695"/>
<line x1="231.5" y1="689" x2="231.5" y2="695"/>
<line x1="239.5" y1="694" x2="239.5" y2="698"/>
<line x1="247.5" y1="694" x2="247.5" y2="703"/>
<line x1="255.5" y1="694" x2="255.5" y2="706"/>
<line x1="263.5" y1="694" x2="263.5" y2="715"/>
<line x1="271.5" y1="694" x2="271.5" y2="724"/>
<line x1="279.5" y1="694" x2="279.5" y2="729"/>
<line x1="287.5" y1="694" x2="287.5" y2="731"/>
<line x1="295.5" y1="694" x2="295.5" y2="734"/>
<line x1="303.5" y1="694" x2="303.5" y2="736"/>
<line x1="311.5" y1="694" x2="311.5" y2="735"/>
<line x1="319.5" y1="694" x2="319.5" y2="734"/>
<line x1="327.5" y1="694" x2="327.5" y2="732"/>
<line x1="335.5" y1="694" x2="335.5" y2="734"/>
<line x1="343.5" y1="694" x2="343.5" y2="734"/>
<line x1="351.5" y1="694" x2="351.5" y2="730"/>
<line x1="359.5" y1="694" x2="359.5" y2="730"/>
<line x1="367.5" y1="694" x2="367.5" y2="733"/>
<line x1="375.5" y1="694" x2="375.5" y2="730"/>
<line x1="383.5" y1="694" x2="383.5" y2="731"/>
<line x1="391.5" y1="694" x2="391.5" y2="733"/>
<line x1="399.5" y1="694" x2="399.5" y2="737"/>
<line x1="407.5" y1="694" x2="407.5" y2="737"/>
<line x1="415.5" y1="694" x2="415.5" y2="736"/>
<line x1="423.5" y1="694" x2="423.5" y2="723"/>
<line x1="431.5" y1="694" x2="431.5" y2="711"/>
<line x1="439.5" y1="694" x2="439.5" y2="697"/>
<line x1="447.5" y1="688" x2="447.5" y2="695"/>
<line x1="455.5" y1="681" x2="455.5" y2="695"/>
<line x1="463.5" y1="676" x2="463.5" y2="695"/>
<line x1="471.5" y1="672" x2="471.5" y2="695"/>
<line x1="479.5" y1="667" x2="479.5" y2="695"/>
<line x1="487.5" y1="658" x2="487.5" y2="695"/>
<line x1="495.5" y1="651" x2="495.5" y2="695"/>
<line x1="503.5" y1="647" x2="503.5" y2="695"/>
<line x1="511.5" y1="648" x2="511.5" y2="695"/>
<line x1="519.5" y1="646" x2="519.5" y2="695"/>
<line x1="527.5" y1="648" x2="527.5" y2="695"/>
<line x1="535.5" y1="648" x2="535.5" y2="695"/>
<line x1="543.5" y1="648" x2="543.5" y2="695"/>
<line x1="551.5" y1="655" x2="551.5" y2="695"/>
<line x1="559.5" y1="661" x2="559.5" y2="695"/>
<line x1="567.5" y1="662" x2="567.5" y2="695"/>
<line x1="575.5" y1="661" x2="575.5" y2="695"/>
<line x1="583.5" y1="663" x2="583.5" y2="695"/>
<line x1="591.5" y1="665" x2="591.5" y2="695"/>
<line x1="599.5" y1="659" x2="599.5" y2="695"/>
<line x1="607.5" y1="659" x2="607.5" y2="695"/>
<line x1="615.5" y1="660" x2="615.5" y2="695"/>
<line x1="623.5" y1="662" x2="623.5" y2="695"/>
<line x1="631.5" y1="665" x2="631.5" y2="695"/>
<line x1="639.5" y1="670" x2="639.5" y2="695"/>
<line x1="647.5" y1="666" x2="647.5" y2="695"/>
<line x1="655.5" y1="664" x2="655.5" y2="695"/>
<line x1="663.5" y1="661" x2="663.5" y2="695"/>
<line x1="671.5" y1="657" x2="671.5" y2="695"/>
<line x1="679.5" y1="647" x2="679.5" y2="695"/>
<line x1="687.5" y1="637" x2="687.5" y2="695"/>
<line x1="695.5" y1="627" x2="695.5" y2="695"/>
<line x1="703.5" y1="621" x2="703.5" y2="695"/>
<line x1="711.5" y1="617" x2="711.5" y2="695"/>
<line x1="719.5" y1="614" x2="719.5" y2="695"/>
<line x1="727.5" y1="615" x2="727.5" y2="695"/>
<line x1="735.5" y1="613" x2="735.5" y2="695"/>
<line x1="743.5" y1="613" x2="743.5" y2="695"/>
<line x1="751.5" y1="616" x2="751.5" y2="695"/>
<line x1="759.5" y1="632" x2="759.5" y2="695"/>
<line x1="767.5" y1="647" x2="767.5" y2="695"/>
<line x1="775.5" y1="660" x2="775.5" y2="695"/>
<line x1="783.5" y1="670" x2="783.5" y2="695"/>
<line x1="791.5" y1="687" x2="791.5" y2="695"/>
<line x1="799.5" y1="694" x2="799.5" y2="701"/>
<line x1="807.5" y1="694" x2="807.5" y2="717"/>
<line x1="815.5" y1="694" x2="815.5" y2="729"/>
<line x1="823.5" y1="694" x2="823.5" y2="736"/>
<line x1="831.5" y1="694" x2="831.5" y2="744"/>
<line x1="839.5" y1="694" x2="839.5" y2="742"/>
<line x1="847.5" y1="694" x2="847.5" y2="739"/>
<line x1="855.5" y1="694" x2="855.5" y2="730"/>
<line x1="863.5" y1="694" x2="863.5" y2="719"/>
<line x1="871.5" y1="694" x2="871.5" y2="715"/>
<line x1="879.5" y1="694" x2="879.5" y2="713"/>
<line x1="887.5" y1="694" x2="887.5" y2="719"/>
<line x1="895.5" y1="694" x2="895.5" y2="724"/>
<line x1="903.5" y1="694" x2="903.5" y2="725"/>
<line x1="911.5" y1="694" x2="911.5" y2="724"/>
<line x1="919.5" y1="694" x2="919.5" y2="713"/>
<line x1="927.5" y1="694" x2="927.5" y2="705"/>
<line x1="935.5" y1="694" x2="935.5" y2="700"/>
<line x1="943.5" y1="694" x2="943.5" y2="696"/>
<line x1="951.5" y1="693" x2="951.5" y2="695"/>
<line x1="959.5" y1="690" x2="959.5" y2="695"/>
<line x1="967.5" y1="688" x2="967.5" y2="695"/>
<line x1="975.5" y1="689" x2="975.5" y2="695"/>
<line x1="983.5" y1="694" x2="983.5" y2="700"/>
<line x1="991.5" y1="694" x2="991.5" y2="709"/>
<line x1="999.5" y1="694" x2="999.5" y2="714"/>
<line x1="1007.5" y1="694" x2="1007.5" y2="717"/>
<line x1="1015.5" y1="694" x2="1015.5" y2="720"/>
<line x1="1023.5" y1="694" x2="1023.5" y2="724"/>
<line x1="1031.5" y1="694" x2="1031.5" y2="732"/>
<line x1="1039.5" y1="694" x2="1039.5" y2="739"/>
<line x1="1047.5" y1="694" x2="1047.5" y2="742"/>
<line x1="1055.5" y1="694" x2="1055.5" y2="742"/>
<line x1="1063.5" y1="694" x2="1063.5" y2="737"/>
<line x1="1071.5" y1="694" x2="1071.5" y2="733"/>
<line x1="1079.5" y1="694" x2="1079.5" y2="727"/>
<line x1="1087.5" y1="694" x2="1087.5" y2="722"/>
<line x1="1095.5" y1="694" x2="1095.5" y2="719"/>
<line x1="1103.5" y1="694" x2="1103.5" y2="717"/>
<line x1="1111.5" y1="694" x2="1111.5" y2="714"/>
<line x1="1119.5" y1="694" x2="1119.5" y2="708"/>
<line x1="1127.5" y1="694" x2="1127.5" y2="695"/>
<line x1="1135.5" y1="686" x2="1135.5" y2="695"/>
<line x1="1143.5" y1="667" x2="1143.5" y2="695"/>
<line x1="1151.5" y1="649" x2="1151.5" y2="695"/>
<line x1="1159.5" y1="638" x2="1159.5" y2="695"/>
<line x1="1167.5" y1="630" x2="1167.5" y2="695"/>
<line x1="1175.5" y1="619" x2="1175.5" y2="695"/>
<line x1="1183.5" y1="612" x2="1183.5" y2="695"/>
<line x1="1191.5" y1="606" x2="1191.5" y2="695"/>
<line x1="1199.5" y1="602" x2="1199.5" y2="695"/>
<line x1="1207.5" y1="603" x2="1207.5" y2="695"/>
<line x1="1215.5" y1="604" x2="1215.5" y2="695"/>
<line x1="1223.5" y1="602" x2="1223.5" y2="695"/>
<line x1="1231.5" y1="602" x2="1231.5" y2="695"/>
<line x1="1239.5" y1="604" x2="1239.5" y2="695"/>
<line x1="1247.5" y1="607" x2="1247.5" y2="695"/>
<line x1="1255.5" y1="609" x2="1255.5" y2="695"/>
<line x1="1263.5" y1="604" x2="1263.5" y2="695"/>
<line x1="1271.5" y1="601" x2="1271.5" y2="695"/>
<line x1="1279.5" y1="595" x2="1279.5" y2="695"/>
<line x1="1287.5" y1="594" x2="1287.5" y2="695"/>
<line x1="1295.5" y1="596" x2="1295.5" y2="695"/>
<line x1="1303.5" y1="594" x2="1303.5" y2="695"/>
<line x1="1311.5" y1="592" x2="1311.5" y2="695"/>
<line x1="1319.5" y1="593" x2="1319.5" y2="695"/>
<line x1="1327.5" y1="597" x2="1327.5" y2="695"/>
<line x1="1335.5" y1="604" x2="1335.5" y2="695"/>
<line x1="1343.5" y1="614" x2="1343.5" y2="695"/></g>
<polyline points="-0.5,739.5 7.5,739.5 15.5,739.0 23.5,736.5 31.5,733.0 39.5,727.0 47.5,719.5 55.5,712.5 63.5,705.5 71.5,695.2 79.5,684.9 87.5,674.0 95.5,663.7 103.5,654.7 111.5,646.5 119.5,639.0 127.5,632.8 135.5,627.2 143.5,622.0 151.5,617.6 159.5,614.3 167.5,612.0 175.5,611.8 183.5,613.3 191.5,616.3 199.5,621.1 207.5,627.4 215.5,635.1 223.5,643.4 231.5,652.4 239.5,661.7 247.5,670.4 255.5,678.5 263.5,686.9 271.5,694.7 279.5,701.9 287.5,708.6 295.5,714.7 303.5,719.9 311.5,723.9 319.5,727.4 327.5,730.3 335.5,732.4 343.5,733.6 351.5,733.7 359.5,733.6 367.5,733.6 375.5,732.9 383.5,732.5 391.5,732.4 399.5,732.9 407.5,733.3 415.5,733.4 423.5,732.6 431.5,730.5 439.5,726.5 447.5,721.8 455.5,716.3 463.5,709.9 471.5,702.7 479.5,694.9 487.5,686.3 495.5,678.4 503.5,671.3 511.5,665.9 519.5,661.2 527.5,657.6 535.5,654.5 543.5,651.8 551.5,650.5 559.5,650.8 567.5,652.0 575.5,653.6 583.5,655.2 591.5,657.3 599.5,658.5 607.5,659.8 615.5,661.0 623.5,661.8 631.5,662.3 639.5,663.1 647.5,663.7 655.5,663.8 663.5,663.4 671.5,663.1 679.5,661.8 687.5,659.3 695.5,655.4 703.5,650.4 711.5,644.5 719.5,638.8 727.5,633.3 735.5,628.0 743.5,623.1 751.5,619.7 759.5,619.2 767.5,621.4 775.5,625.8 783.5,631.7 791.5,639.8 799.5,649.4 807.5,660.9 815.5,673.7 823.5,687.0 831.5,699.4 839.5,710.0 847.5,718.7 855.5,725.3 863.5,728.9 871.5,730.4 879.5,730.0 887.5,728.9 895.5,727.6 903.5,725.5 911.5,723.5 919.5,720.7 927.5,717.9 935.5,715.7 943.5,713.7 951.5,711.5 959.5,708.2 967.5,704.3 975.5,700.3 983.5,697.6 991.5,697.2 999.5,698.2 1007.5,700.1 1015.5,702.7 1023.5,706.2 1031.5,710.8 1039.5,716.5 1047.5,722.4 1055.5,727.0 1063.5,730.1 1071.5,732.2 1079.5,733.3 1087.5,733.6 1095.5,733.0 1103.5,731.4 1111.5,728.6 1119.5,724.8 1127.5,719.6 1135.5,713.9 1143.5,706.6 1151.5,698.0 1159.5,688.6 1167.5,678.7 1175.5,667.8 1183.5,656.5 1191.5,645.1 1199.5,634.8 1207.5,625.6 1215.5,618.6 1223.5,613.4 1231.5,609.4 1239.5,606.5 1247.5,605.1 1255.5,604.8 1263.5,604.5 1271.5,604.4 1279.5,603.5 1287.5,602.4 1295.5,601.7 1303.5,600.8 1311.5,599.5 1319.5,597.9 1327.5,596.6 1335.5,596.6 1343.5,598.0" fill="none" stroke="#ff0000" stroke-width="1" stroke-dasharray="3,3" shape-rendering="crispEdges"/>
</g>
<text x="3" y="595" font-size="9.5" fill="#000" stroke="#000" stroke-width="0.3" textLength="127" lengthAdjust="spacingAndGlyphs">MACD(12,26,9) 299.52 358.66</text>
<g shape-rendering="crispEdges" fill="#000"><rect x="1619" y="584" width="2" height="1"/><rect x="1619" y="694" width="2" height="1"/><rect x="1619" y="751" width="2" height="1"/></g>
<text x="1622" y="593" font-size="9.5" fill="#000" stroke="#000" stroke-width="0.3" textLength="27" lengthAdjust="spacingAndGlyphs">407.58</text>
<text x="1622" y="698" font-size="9.5" fill="#000" stroke="#000" stroke-width="0.3" textLength="17" lengthAdjust="spacingAndGlyphs">0.00</text>
<text x="1622" y="749" font-size="9.5" fill="#000" stroke="#000" stroke-width="0.3" textLength="30" lengthAdjust="spacingAndGlyphs">-213.22</text>
<g clip-path="url(#cr)">
<g stroke="#b4b4b4" stroke-width="1" stroke-dasharray="3,3" shape-rendering="crispEdges">
<line x1="0" y1="790.5" x2="1618" y2="790.5"/>
<line x1="0" y1="841.5" x2="1618" y2="841.5"/>
<line x1="0" y1="902.5" x2="1618" y2="902.5"/>
</g>
<polyline points="-0.5,857.3 7.5,857.3 15.5,858.4 23.5,841.6 31.5,816.3 39.5,814.5 47.5,819.3 55.5,814.5 63.5,815.6 71.5,813.3 79.5,814.5 87.5,813.3 95.5,816.3 103.5,803.3 111.5,801.3 119.5,802.5 127.5,804.3 135.5,800.3 143.5,797.3 151.5,814.2 159.5,816.3 167.5,828.3 175.5,835.6 183.5,832.3 191.5,836.3 199.5,852.4 207.5,849.4 215.5,847.6 223.5,851.3 231.5,860.3 239.5,864.1 247.5,852.4 255.5,853.6 263.5,864.8 271.5,869.3 279.5,862.9 287.5,861.4 295.5,863.3 303.5,862.3 311.5,856.6 319.5,857.3 327.5,860.3 335.5,861.8 343.5,864.4 351.5,846.4 359.5,856.9 367.5,865.6 375.5,850.3 383.5,856.6 391.5,862.3 399.5,865.6 407.5,858.8 415.5,854.8 423.5,828.8 431.5,824.7 439.5,819.3 447.5,822.3 455.5,823.5 463.5,825.3 471.5,823.8 479.5,819.8 487.5,810.3 495.5,810.3 503.5,814.2 511.5,825.3 519.5,819.3 527.5,826.2 535.5,822.3 543.5,823.5 551.5,840.4 559.5,839.3 567.5,831.8 575.5,828.3 583.5,831.4 591.5,832.3 599.5,817.2 607.5,824.3 615.5,829.8 623.5,834.1 631.5,835.9 639.5,841.9 647.5,824.3 655.5,824.3 663.5,820.8 671.5,816.8 679.5,804.3 687.5,801.3 695.5,798.3 703.5,802.2 711.5,801.3 719.5,800.3 727.5,811.2 735.5,804.3 743.5,810.8 751.5,814.8 759.5,849.4 767.5,851.3 775.5,853.3 783.5,851.3 791.5,867.1 799.5,868.9 807.5,874.9 815.5,873.1 823.5,869.3 831.5,873.1 839.5,853.9 847.5,850.6 855.5,838.3 863.5,833.3 871.5,840.8 879.5,845.3 887.5,858.1 895.5,858.4 903.5,852.8 911.5,849.1 919.5,830.3 927.5,833.3 935.5,835.3 943.5,835.6 951.5,834.4 959.5,833.3 967.5,836.2 975.5,840.8 983.5,861.8 991.5,864.4 999.5,855.4 1007.5,856.3 1015.5,857.3 1023.5,860.3 1031.5,870.8 1039.5,872.3 1047.5,866.8 1055.5,860.8 1063.5,848.3 1071.5,844.3 1079.5,844.3 1087.5,844.3 1095.5,844.3 1103.5,850.3 1111.5,841.3 1119.5,835.3 1127.5,816.3 1135.5,819.3 1143.5,801.8 1151.5,798.3 1159.5,806.3 1167.5,806.3 1175.5,799.2 1183.5,801.3 1191.5,800.3 1199.5,798.3 1207.5,811.3 1215.5,809.6 1223.5,805.3 1231.5,805.3 1239.5,807.3 1247.5,812.3 1255.5,808.1 1263.5,797.4 1271.5,797.4 1279.5,792.2 1287.5,799.7 1295.5,809.6 1303.5,801.5 1311.5,800.3 1319.5,803.8 1327.5,812.5 1335.5,821.2 1343.5,829.7" fill="none" stroke="#1e90ff" stroke-width="1" shape-rendering="crispEdges"/>
</g>
<text x="3" y="767" font-size="9.5" fill="#000" stroke="#000" stroke-width="0.3" textLength="67" lengthAdjust="spacingAndGlyphs">RSI(14) 56.9764</text>
<g shape-rendering="crispEdges" fill="#000"><rect x="1619" y="756" width="2" height="1"/><rect x="1619" y="927" width="2" height="1"/></g>
<text x="1622" y="765" font-size="9.5" fill="#000" stroke="#000" stroke-width="0.3" textLength="15" lengthAdjust="spacingAndGlyphs">100</text>
<text x="1621" y="794" font-size="9.5" fill="#000" stroke="#000" stroke-width="0.3" textLength="10" lengthAdjust="spacingAndGlyphs">80</text>
<text x="1621" y="845" font-size="9.5" fill="#000" stroke="#000" stroke-width="0.3" textLength="10" lengthAdjust="spacingAndGlyphs">50</text>
<text x="1621.5" y="906" font-size="9.5" fill="#000" stroke="#000" stroke-width="0.3" textLength="9.5" lengthAdjust="spacingAndGlyphs">15</text>
<text x="1622" y="925" font-size="9.5" fill="#000" stroke="#000" stroke-width="0.3" textLength="5" lengthAdjust="spacingAndGlyphs">0</text>
<g shape-rendering="crispEdges" fill="#000">
<rect x="63" y="929" width="1" height="4"/>
<rect x="127" y="929" width="1" height="4"/>
<rect x="191" y="929" width="1" height="4"/>
<rect x="255" y="929" width="1" height="4"/>
<rect x="319" y="929" width="1" height="4"/>
<rect x="383" y="929" width="1" height="4"/>
<rect x="447" y="929" width="1" height="4"/>
<rect x="511" y="929" width="1" height="4"/>
<rect x="575" y="929" width="1" height="4"/>
<rect x="639" y="929" width="1" height="4"/>
<rect x="703" y="929" width="1" height="4"/>
<rect x="767" y="929" width="1" height="4"/>
<rect x="831" y="929" width="1" height="4"/>
<rect x="895" y="929" width="1" height="4"/>
<rect x="959" y="929" width="1" height="4"/>
<rect x="1023" y="929" width="1" height="4"/>
<rect x="1087" y="929" width="1" height="4"/>
<rect x="1151" y="929" width="1" height="4"/>
<rect x="1215" y="929" width="1" height="4"/>
<rect x="1279" y="929" width="1" height="4"/>
<rect x="1343" y="929" width="1" height="4"/>
</g>
<text x="-2" y="941" font-size="10" fill="#000" stroke="#000" stroke-width="0.3" textLength="46.4" lengthAdjust="spacingAndGlyphs">2 Sep 2019</text>
<text x="62.5" y="941" font-size="10" fill="#000" stroke="#000" stroke-width="0.3" textLength="49.1" lengthAdjust="spacingAndGlyphs">6 Sep 05:00</text>
<text x="126.5" y="941" font-size="10" fill="#000" stroke="#000" stroke-width="0.3" textLength="54.1" lengthAdjust="spacingAndGlyphs">12 Sep 05:00</text>
<text x="190.5" y="941" font-size="10" fill="#000" stroke="#000" stroke-width="0.3" textLength="54.1" lengthAdjust="spacingAndGlyphs">18 Sep 05:00</text>
<text x="254.5" y="941" font-size="10" fill="#000" stroke="#000" stroke-width="0.3" textLength="54.1" lengthAdjust="spacingAndGlyphs">24 Sep 05:00</text>
<text x="318.5" y="941" font-size="10" fill="#000" stroke="#000" stroke-width="0.3" textLength="54.1" lengthAdjust="spacingAndGlyphs">30 Sep 05:00</text>
<text x="382.5" y="941" font-size="10" fill="#000" stroke="#000" stroke-width="0.3" textLength="47.6" lengthAdjust="spacingAndGlyphs">8 Oct 05:00</text>
<text x="446.5" y="941" font-size="10" fill="#000" stroke="#000" stroke-width="0.3" textLength="52.6" lengthAdjust="spacingAndGlyphs">14 Oct 05:00</text>
<text x="510.5" y="941" font-size="10" fill="#000" stroke="#000" stroke-width="0.3" textLength="52.6" lengthAdjust="spacingAndGlyphs">18 Oct 05:00</text>
<text x="574.5" y="941" font-size="10" fill="#000" stroke="#000" stroke-width="0.3" textLength="52.6" lengthAdjust="spacingAndGlyphs">24 Oct 05:00</text>
<text x="638.5" y="941" font-size="10" fill="#000" stroke="#000" stroke-width="0.3" textLength="52.6" lengthAdjust="spacingAndGlyphs">30 Oct 05:00</text>
<text x="702.5" y="941" font-size="10" fill="#000" stroke="#000" stroke-width="0.3" textLength="47.6" lengthAdjust="spacingAndGlyphs">5 Nov 05:00</text>
<text x="766.5" y="941" font-size="10" fill="#000" stroke="#000" stroke-width="0.3" textLength="52.6" lengthAdjust="spacingAndGlyphs">11 Nov 05:00</text>
<text x="830.5" y="941" font-size="10" fill="#000" stroke="#000" stroke-width="0.3" textLength="52.6" lengthAdjust="spacingAndGlyphs">15 Nov 05:00</text>
<text x="894.5" y="941" font-size="10" fill="#000" stroke="#000" stroke-width="0.3" textLength="52.6" lengthAdjust="spacingAndGlyphs">21 Nov 05:00</text>
<text x="958.5" y="941" font-size="10" fill="#000" stroke="#000" stroke-width="0.3" textLength="52.6" lengthAdjust="spacingAndGlyphs">27 Nov 05:00</text>
<text x="1022.5" y="941" font-size="10" fill="#000" stroke="#000" stroke-width="0.3" textLength="49.1" lengthAdjust="spacingAndGlyphs">3 Dec 05:00</text>
<text x="1086.5" y="941" font-size="10" fill="#000" stroke="#000" stroke-width="0.3" textLength="49.1" lengthAdjust="spacingAndGlyphs">9 Dec 05:00</text>
<text x="1150.5" y="941" font-size="10" fill="#000" stroke="#000" stroke-width="0.3" textLength="54.1" lengthAdjust="spacingAndGlyphs">13 Dec 05:00</text>
<text x="1214.5" y="941" font-size="10" fill="#000" stroke="#000" stroke-width="0.3" textLength="54.1" lengthAdjust="spacingAndGlyphs">19 Dec 05:00</text>
<text x="1278.5" y="941" font-size="10" fill="#000" stroke="#000" stroke-width="0.3" textLength="54.1" lengthAdjust="spacingAndGlyphs">30 Dec 01:15</text>
<text x="1342.5" y="941" font-size="10" fill="#000" stroke="#000" stroke-width="0.3" textLength="49.1" lengthAdjust="spacingAndGlyphs">6 Jan 05:00</text>
<polygon points="2,38 5.5,34 9,38" fill="#000"/>
<text x="14" y="39" font-size="10" fill="#000" stroke="#000" stroke-width="0.3" textLength="188" lengthAdjust="spacingAndGlyphs">HK50-,H4&#160;&#160;28319.0 28363.5 28074.0 28182.0</text>
</svg>
<div class="tb"></div><div class="tbl"></div>
<svg width="1665" height="22" viewBox="0 0 1665 22" style="position:absolute;left:0;top:0" font-family="&quot;Liberation Sans&quot;, &quot;Noto Sans CJK SC&quot;, sans-serif">
<defs>
<linearGradient id="gold" x1="0" y1="0" x2="1" y2="1"><stop offset="0" stop-color="#ffe680"/><stop offset="0.6" stop-color="#e8b020"/><stop offset="1" stop-color="#b87810"/></linearGradient>
<linearGradient id="blu" x1="0" y1="0" x2="0" y2="1"><stop offset="0" stop-color="#50b0ff"/><stop offset="1" stop-color="#1070e0"/></linearGradient>
<radialGradient id="clk" cx="0.4" cy="0.35" r="0.7"><stop offset="0" stop-color="#ffffff"/><stop offset="0.55" stop-color="#d8e8ff"/><stop offset="0.6" stop-color="#2a7ae0"/><stop offset="1" stop-color="#0a3ea8"/></radialGradient>
</defs>
<!-- new order -->
<path d="M-7,13h5v-3.8h3v3.8h4v3h-4v3.8h-3v-3.8h-5z" fill="#12b012"/>
<text x="8" y="14.2" font-size="11.5" fill="#000" stroke="#000" stroke-width="0.3" font-family="&quot;Noto Sans CJK SC&quot;, sans-serif" textLength="36" lengthAdjust="spacingAndGlyphs">新订单</text>
<!-- book -->
<path d="M56.5,13.2 L65.5,18.8 L72.2,11.6 L71.6,10.4 L65,16.6 Z" fill="#a86a18"/>
<path d="M56.5,12.2 L62.3,4.6 L71.2,10.4 L65,16.8 Z" fill="url(#gold)" stroke="#b07818" stroke-width="0.7"/>
<path d="M58.5,12.3 L64.8,15.8" stroke="#fff0a0" stroke-width="0.8" fill="none"/>
<!-- cloud doc -->
<path d="M86,4.5 L88.5,3 L97.5,3 L97.5,13 L86,13 Z" fill="#1e8ef0"/>
<path d="M86,4.5 L88.5,3 L97.5,3 L95,4.5 Z" fill="#9ad0ff"/>
<rect x="86" y="4.5" width="2.5" height="8.5" fill="#58b4ff"/>
<path d="M90,8h5.5M90,10h5.5" stroke="#d8eeff" stroke-width="0.9"/>
<path d="M85.3,18.6 C83.2,18.6 83,15.2 85.6,15.1 C85.9,12.9 89.2,12.2 90.5,13.9 C91.9,11.4 96,11.9 96.3,14.7 C99.7,14.6 100,18.6 97.4,18.6 Z" fill="#eef2f8" stroke="#6078b0" stroke-width="0.8"/>
<!-- signal -->
<g fill="none" stroke-width="1">
<circle cx="120" cy="10.7" r="7.3" stroke="#7fa8e8"/>
<circle cx="120" cy="10.7" r="4.7" stroke="#5a8ae0"/>
<path d="M120,3.4 A7.3,7.3 0 0 1 124.5,16.5" stroke="#9ccc9c"/>
<path d="M120,6 A4.7,4.7 0 0 1 123,14.4" stroke="#8cc08c"/>
</g>
<circle cx="120" cy="10.5" r="1.6" fill="#2050c0"/>
<path d="M120.5,10.5V18.5" stroke="#2aa02a" stroke-width="1.4"/>
<!-- autotrading -->
<path d="M140.5,10.5 L152.5,10.5 L150,17 L146,18.5 Z" fill="#f0d040" stroke="#c09a20" stroke-width="0.6"/>
<ellipse cx="147" cy="8" rx="7.8" ry="2.6" fill="#5aa8e0" stroke="#3080b8" stroke-width="0.6"/>
<ellipse cx="147" cy="6" rx="4" ry="2.8" fill="#68b4ea" stroke="#3080b8" stroke-width="0.6"/>
<circle cx="151.3" cy="14.6" r="4.1" fill="#d81a10"/>
<rect x="149.6" y="12.9" width="3.4" height="3.4" fill="#fff"/>
<text x="160.5" y="14.2" font-size="11.5" fill="#000" stroke="#000" stroke-width="0.3" font-family="&quot;Noto Sans CJK SC&quot;, sans-serif" textLength="47" lengthAdjust="spacingAndGlyphs">自动交易</text>
<!-- separators & grips -->
<g shape-rendering="crispEdges">
<rect x="214" y="0" width="1" height="22" fill="#a0a0a0"/><rect x="215" y="0" width="1" height="22" fill="#fff"/>
<rect x="310" y="1" width="1" height="20" fill="#a0a0a0"/>
<rect x="400" y="0" width="1" height="22" fill="#a0a0a0"/>
<rect x="462" y="1" width="1" height="20" fill="#a0a0a0"/>
<rect x="650" y="1" width="1" height="20" fill="#a0a0a0"/>
<rect x="584" y="0" width="1" height="22" fill="#a0a0a0"/>
<rect x="889" y="0" width="1" height="22" fill="#a0a0a0"/>
<rect x="1150" y="0" width="1" height="22" fill="#a0a0a0"/>
<!-- pressed buttons -->
<rect x="254" y="0" width="24" height="21" fill="#f7f7f7"/>
<rect x="405" y="0" width="24" height="21" fill="#f6f6f6"/>
<rect x="433" y="0" width="24" height="21" fill="#f6f6f6"/>
<rect x="594" y="0" width="24" height="21" fill="#f7f7f7"/><rect x="593" y="0" width="1" height="21" fill="#909090"/>
<rect x="1039" y="0" width="25" height="21" fill="#f6f6f6"/><rect x="1039" y="0" width="1" height="21" fill="#8a8a8a"/>
</g>
<g fill="#a8a8a8" shape-rendering="crispEdges">
<path d="M219,2h3v1h-3zM219,4h3v1h-3zM219,6h3v1h-3zM219,8h3v1h-3zM219,10h3v1h-3zM219,12h3v1h-3zM219,14h3v1h-3zM219,16h3v1h-3zM219,18h3v1h-3z"/>
<path d="M405,2h3v1h-3zM405,4h3v1h-3zM405,6h3v1h-3zM405,8h3v1h-3zM405,10h3v1h-3zM405,12h3v1h-3zM405,14h3v1h-3zM405,16h3v1h-3zM405,18h3v1h-3z" transform="translate(-3,0)"/>
<path d="M587,2h3v1h-3zM587,4h3v1h-3zM587,6h3v1h-3zM587,8h3v1h-3zM587,10h3v1h-3zM587,12h3v1h-3zM587,14h3v1h-3zM587,16h3v1h-3zM587,18h3v1h-3z"/>
<path d="M893,2h3v1h-3zM893,4h3v1h-3zM893,6h3v1h-3zM893,8h3v1h-3zM893,10h3v1h-3zM893,12h3v1h-3zM893,14h3v1h-3zM893,16h3v1h-3zM893,18h3v1h-3z"/>
</g>
<!-- chart type icons -->
<g stroke="#404040" stroke-width="1.1" fill="none">
<path d="M233.5,5V19M231,17.5H245M231.7,7L233.5,5L235.3,7M243,15.7L245,17.5L243,19.3"/>
<path d="M261.5,5V19M259,17.5H273M259.7,7L261.5,5L263.3,7M271,15.7L273,17.5L271,19.3"/>
<path d="M289.5,5V19M287,17.5H301M287.7,7L289.5,5L291.3,7M299,15.7L301,17.5L299,19.3"/>
<path d="M413.5,5V19M411,17.5H425M411.7,7L413.5,5L415.3,7M423,15.7L425,17.5L423,19.3"/>
<path d="M441.5,5V19M439,17.5H453M439.7,7L441.5,5L443.3,7M451,15.7L453,17.5L451,19.3"/>
</g>
<path d="M238.5,14.5h1.5v-7h2.5" stroke="#1a9a1a" stroke-width="1.2" fill="none"/>
<rect x="265.5" y="6.5" width="3" height="7" fill="#30d030" stroke="#108010" stroke-width="0.8"/>
<path d="M267,4V16" stroke="#108010" stroke-width="1"/>
<path d="M291,13.5 C293.5,8.5 295.5,8 300,11.5" stroke="#1a9a1a" stroke-width="1.1" fill="none"/>
<path d="M418,8v5l3-2.5z" fill="#20b020"/>
<path d="M447.5,5V16" stroke="#2060c0" stroke-width="1.2"/><path d="M449,10.5h4M449,10.5l2.5,-2.2M449,10.5l2.5,2.2" stroke="#d04010" stroke-width="1.2" fill="none"/>
<!-- zoom icons -->
<g>
<path d="M329,13.5l5,5" stroke="#c0a020" stroke-width="2.6"/>
<circle cx="325.5" cy="9.5" r="5.3" fill="#d8ecff" stroke="#2c78d0" stroke-width="1.4"/>
<path d="M322.5,9.5h6M325.5,6.5v6" stroke="#2c6cc0" stroke-width="1.6"/>
<path d="M357.5,13.5l5,5" stroke="#c0a020" stroke-width="2.6"/>
<circle cx="354" cy="9.5" r="5.3" fill="#d8ecff" stroke="#2c78d0" stroke-width="1.4"/>
<path d="M351,9.5h6" stroke="#2c6cc0" stroke-width="1.6"/>
</g>
<!-- tile -->
<g shape-rendering="crispEdges">
<rect x="375" y="3" width="8" height="8" fill="#3aa030"/><rect x="383" y="3" width="8" height="8" fill="#2050c8"/>
<rect x="375" y="11" width="8" height="8" fill="#2050c8"/><rect x="383" y="11" width="8" height="8" fill="#3aa030"/>
<path d="M376,7h6v2h-6zM384,7h6v2h-6zM376,15h6v2h-6zM384,15h6v2h-6z" fill="#e8f0e8"/>
</g>
<!-- new chart -->
<path d="M472.5,4.5h7l2.5,2.5v9h-9.5z" fill="#f4f4f4" stroke="#707070" stroke-width="0.9"/>
<path d="M478,10h4v-3h3v3h4v3h-4v4h-3v-4h-4z" fill="#26c026" stroke="#138a13" stroke-width="0.7" transform="translate(0,2)"/>
<path d="M493.5,10h5l-2.5,3z" fill="#000"/>
<!-- clock -->
<circle cx="518" cy="11" r="7.6" fill="#1c5cc8"/>
<circle cx="517.6" cy="10.6" r="6.8" fill="#3a86e8"/>
<circle cx="518" cy="11" r="5" fill="#eef4fc"/>
<path d="M518,7.5v3.8h2.8" stroke="#303030" stroke-width="1" fill="none"/>
<path d="M532.5,10h5l-2.5,3z" fill="#000"/>
<!-- indicators -->
<rect x="549.5" y="4.5" width="15" height="13" fill="#fff" stroke="#2a62c8" stroke-width="1"/>
<rect x="550" y="5" width="14" height="2" fill="#5a8ee0"/>
<path d="M551,12l3,-1.5l3,1l3,-2l3,0.5" stroke="#b03010" stroke-width="0.9" fill="none"/>
<path d="M551,16l3,-1.5l3,1l3,-2l3,1" stroke="#20a020" stroke-width="0.9" fill="none"/>
<path d="M571.5,10h5l-2.5,3z" fill="#000"/>
<!-- cursor -->
<path d="M601,4.5V15.5L603.6,13L605.8,17.5L607.6,16.6L605.5,12.4H609Z" fill="#303030"/>
<path d="M633.5,4V10M633.5,13V19M626,11.5H632M635,11.5H641" stroke="#505050" stroke-width="1"/>
<!-- line tools -->
<path d="M667.5,5V16" stroke="#404040" stroke-width="1.2"/>
<path d="M690,11.5H702" stroke="#404040" stroke-width="1.2"/>
<path d="M717,17.5L730,5.5" stroke="#555" stroke-width="1"/>
<path d="M744,12.5L756,4M745,16L757,7.5M746.5,8.5l1,5M749.5,6.5l1,5M752.5,4.5l1,5M755.5,6l1,4" stroke="#505050" stroke-width="1" fill="none"/>
<text x="756" y="20" font-size="7.5" font-weight="bold" fill="#404040">E</text>
<path d="M773,4.5H786M773,7.5H786M773,10.5H786M773,14.5H781" stroke="#606060" stroke-width="1" stroke-dasharray="1,1" fill="none" shape-rendering="crispEdges"/>
<text x="782" y="20" font-size="7.5" font-weight="bold" fill="#404040">F</text>
<text x="802" y="15.5" font-size="12" font-weight="bold" fill="#505050" textLength="9" lengthAdjust="spacingAndGlyphs">A</text>
<rect x="829.5" y="4.5" width="12" height="13" fill="none" stroke="#606060" stroke-width="1" stroke-dasharray="1,1" shape-rendering="crispEdges"/>
<text x="831.5" y="15.5" font-size="12" font-weight="bold" fill="#505050">T</text>
<path d="M860,4l3,3h-6zM866,17l3,-3h-6z" fill="#404040"/><path d="M858,11l3,3l6,-6" stroke="#404040" stroke-width="1.2" fill="none"/>
<path d="M877.5,10h5l-2.5,3z" fill="#000"/>
<!-- timeframes -->
<g font-size="10" fill="#202020">
<text x="904.5" y="15" textLength="12.5" lengthAdjust="spacingAndGlyphs">M1</text>
<text x="932" y="15" textLength="13" lengthAdjust="spacingAndGlyphs">M5</text>
<text x="958" y="15" textLength="18.5" lengthAdjust="spacingAndGlyphs">M15</text>
<text x="986" y="15" textLength="18.5" lengthAdjust="spacingAndGlyphs">M30</text>
<text x="1017" y="15" textLength="12" lengthAdjust="spacingAndGlyphs">H1</text>
<text x="1044.5" y="15" textLength="13" lengthAdjust="spacingAndGlyphs">H4</text>
<text x="1073.5" y="15" textLength="12.5" lengthAdjust="spacingAndGlyphs">D1</text>
<text x="1101" y="15" textLength="14.5" lengthAdjust="spacingAndGlyphs">W1</text>
<text x="1128" y="15" textLength="14.5" lengthAdjust="spacingAndGlyphs">MN</text>
</g>
<!-- search / chat -->
<circle cx="1620.6" cy="8.3" r="3.8" fill="#fff" stroke="#1f60d0" stroke-width="1.4"/>
<path d="M1618,11L1613.8,15.2" stroke="#1a50c0" stroke-width="2.2"/>
<ellipse cx="1653" cy="8" rx="6.3" ry="4.3" fill="#f8f8fa" stroke="#8a8a8a" stroke-width="0.9"/>
<path d="M1655,12l1.5,2.5l0,-3" fill="#707070"/>
<ellipse cx="1644" cy="12" rx="5" ry="3.9" fill="#fafafa" stroke="#8a8a8a" stroke-width="0.9"/>
<path d="M1642,15.5l-1,2.5l3,-2.2" fill="#707070"/>
</svg>

<svg width="230" height="115" viewBox="0 0 230 115" style="position:absolute;left:0;top:0" font-family="&quot;Liberation Sans&quot;, sans-serif">
<defs>
<linearGradient id="gt" x1="0" y1="0" x2="0" y2="1"><stop offset="0" stop-color="#f85555"/><stop offset="1" stop-color="#e23434"/></linearGradient>
<linearGradient id="gb" gradientUnits="userSpaceOnUse" x1="0" y1="71" x2="0" y2="111"><stop offset="0" stop-color="#de3030"/><stop offset="0.5" stop-color="#cc1c1c"/><stop offset="1" stop-color="#b20202"/></linearGradient>
<linearGradient id="gbtn" x1="0" y1="0" x2="0" y2="1"><stop offset="0" stop-color="#f2f2f2"/><stop offset="0.45" stop-color="#ebebeb"/><stop offset="0.55" stop-color="#dcdcdc"/><stop offset="1" stop-color="#d4d4d4"/></linearGradient>
</defs>
<g shape-rendering="crispEdges">
<!-- white backing -->
<rect x="54" y="47" width="115" height="24" fill="#fff"/>
<rect x="111" y="71" width="2" height="40" fill="#fff"/>
<!-- SELL tab -->
<rect x="2" y="47" width="52" height="24" fill="url(#gt)"/>
<rect x="2" y="71" width="109" height="40" fill="url(#gb)"/>
<path d="M2.5,111V47.5H53.5V71.5H110.5V111" fill="none" stroke="#b00000"/>
<rect x="2" y="110" width="109" height="1" fill="#a00000"/>
<rect x="6" y="70" width="44" height="1" fill="#7a0000"/>
<rect x="6" y="71" width="44" height="1" fill="#f06a6a"/>
<!-- BUY tab -->
<rect x="169" y="47" width="52" height="24" fill="url(#gt)"/>
<rect x="113" y="71" width="108" height="40" fill="url(#gb)"/>
<path d="M113.5,111V71.5H169.5V47.5H220.5V111" fill="none" stroke="#b00000"/>
<rect x="113" y="110" width="108" height="1" fill="#a00000"/>
<rect x="173" y="70" width="44" height="1" fill="#7a0000"/>
<rect x="173" y="71" width="44" height="1" fill="#f06a6a"/>
<!-- lot box -->
<rect x="56.5" y="47.5" width="110" height="21" fill="#fff" stroke="#a4a8ae"/>
<rect x="57" y="48" width="20" height="20" fill="url(#gbtn)"/>
<rect x="77" y="48" width="1" height="20" fill="#b4b8be"/>
<rect x="145" y="48" width="1" height="20" fill="#b4b8be"/>
<rect x="146" y="48" width="20" height="20" fill="url(#gbtn)"/>
</g>
<polygon points="64,56 69,56 66.5,59" fill="#5a6ad0"/>
<polygon points="153,59 158,59 155.5,56" fill="#5a6ad0"/>
<text x="142" y="62" font-size="12.3" fill="#000" text-anchor="end">1.00</text>
<text x="14.4" y="63" font-size="12.3" fill="#fff" textLength="25.5" lengthAdjust="spacingAndGlyphs">SELL</text>
<text x="182.5" y="63" font-size="12.3" fill="#fff" textLength="23.3" lengthAdjust="spacingAndGlyphs">BUY</text>
<text x="18" y="102" font-size="12.5" font-weight="bold" fill="#fff" textLength="34" lengthAdjust="spacingAndGlyphs">28180</text>
<text x="128.5" y="102" font-size="12.5" font-weight="bold" fill="#fff" textLength="34" lengthAdjust="spacingAndGlyphs">28193</text>
<circle cx="59" cy="99.8" r="2.1" fill="#fff"/>
<circle cx="170.6" cy="99.8" r="2.1" fill="#fff"/>
<text x="64.5" y="101.6" font-size="33" fill="#fff" stroke="url(#gb)" stroke-width="0.9" textLength="16" lengthAdjust="spacingAndGlyphs">5</text>
<text x="175.5" y="101.6" font-size="33" fill="#fff" stroke="url(#gb)" stroke-width="0.9" textLength="16" lengthAdjust="spacingAndGlyphs">5</text>
</svg>

</body></html>
